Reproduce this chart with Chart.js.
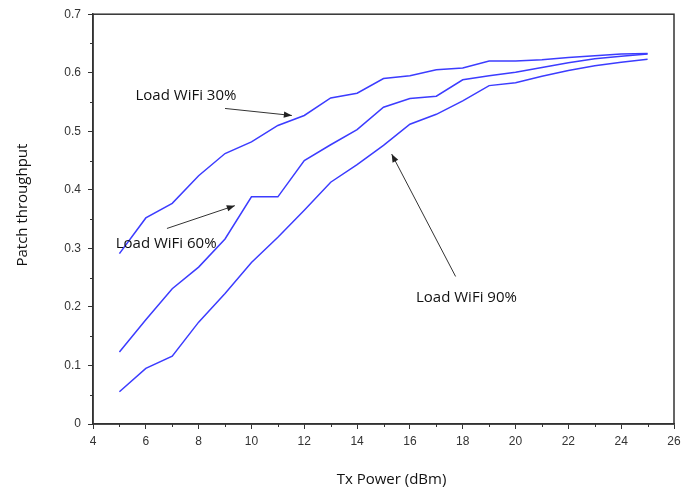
<!DOCTYPE html>
<html>
<head>
<meta charset="utf-8">
<script src="https://cdn.jsdelivr.net/npm/chart.js@4"></script>
<style>
  html, body { margin: 0; padding: 0; background: #fff; }
  #wrap { width: 693px; height: 489px; }
</style>
</head>
<body>
<div id="wrap"><canvas id="c" width="693" height="489"></canvas></div>
<script>
// ---- data ----
const txPower = [5,6,7,8,9,10,11,12,13,14,15,16,17,18,19,20,21,22,23,24,25];
const load30 = [0.291,0.352,0.377,0.424,0.462,0.482,0.510,0.527,0.557,0.565,0.590,0.595,0.605,0.608,0.620,0.620,0.622,0.626,0.629,0.632,0.633];
const load60 = [0.123,0.178,0.231,0.268,0.316,0.388,0.388,0.450,0.477,0.503,0.541,0.556,0.560,0.588,0.595,0.601,0.609,0.617,0.624,0.628,0.632];
const load90 = [0.055,0.095,0.116,0.174,0.223,0.276,0.319,0.365,0.413,0.443,0.476,0.512,0.529,0.552,0.578,0.583,0.594,0.604,0.612,0.618,0.623];
const seriesNames = ['Load WiFi 30%','Load WiFi 60%','Load WiFi 90%'];
// annotation label positions and arrows (data units)
const labelPos = [[7.52,0.561],[6.77,0.308],[18.14,0.216]];
const arrowFrom = [[9.0,0.539],[6.80,0.334],[17.73,0.252]];
const arrowTo = [[11.53,0.527],[9.37,0.373],[15.31,0.461]];
const xTitle = 'Tx Power (dBm)';
const yTitle = 'Patch throughput';

const lineColor = 'rgb(60,60,255)';
const axisColor = '#333';

const toXY = arr => txPower.map((x,i)=>({x, y: arr[i]}));

const decor = {
  id: 'decor',
  afterDraw(chart) {
    const ctx = chart.ctx;
    const xs = chart.scales.x, ys = chart.scales.y;
    const a = chart.chartArea;
    ctx.save();
    // frame
    ctx.strokeStyle = axisColor;
    ctx.lineWidth = 1.5;
    ctx.strokeRect(a.left, a.top, a.right - a.left, a.bottom - a.top);
    // minor ticks
    ctx.lineWidth = 1;
    ctx.beginPath();
    for (let v = 5; v < 26; v += 2) {
      const px = Math.round(xs.getPixelForValue(v)) + 0.5;
      ctx.moveTo(px, a.bottom); ctx.lineTo(px, a.bottom + 3);
    }
    for (let k = 1; k < 14; k += 2) {
      const py = Math.round(ys.getPixelForValue(k * 0.05)) + 0.5;
      ctx.moveTo(a.left, py); ctx.lineTo(a.left - 3, py);
    }
    ctx.stroke();
    // axis titles
    ctx.fillStyle = '#111';
    ctx.font = '15px "Open Sans"';
    ctx.textAlign = 'center';
    ctx.textBaseline = 'middle';
    ctx.fillText(xTitle, (a.left + a.right) / 2 + 8, 480);
    ctx.save();
    ctx.translate(23, (a.top + a.bottom) / 2 - 14);
    ctx.rotate(-Math.PI / 2);
    ctx.fillText(yTitle, 0, 0);
    ctx.restore();
    // annotations
    seriesNames.forEach((n, i) => {
      ctx.fillStyle = '#111';
      ctx.fillText(n, xs.getPixelForValue(labelPos[i][0]), ys.getPixelForValue(labelPos[i][1]));
      const x1 = xs.getPixelForValue(arrowFrom[i][0]), y1 = ys.getPixelForValue(arrowFrom[i][1]);
      const x2 = xs.getPixelForValue(arrowTo[i][0]), y2 = ys.getPixelForValue(arrowTo[i][1]);
      ctx.strokeStyle = '#333';
      ctx.lineWidth = 1;
      ctx.beginPath(); ctx.moveTo(x1, y1); ctx.lineTo(x2, y2); ctx.stroke();
      const ang = Math.atan2(y2 - y1, x2 - x1);
      const L = 8, W = 3.2;
      ctx.fillStyle = '#222';
      ctx.beginPath();
      ctx.moveTo(x2, y2);
      ctx.lineTo(x2 - L*Math.cos(ang) + W*Math.sin(ang), y2 - L*Math.sin(ang) - W*Math.cos(ang));
      ctx.lineTo(x2 - L*Math.cos(ang) - W*Math.sin(ang), y2 - L*Math.sin(ang) + W*Math.cos(ang));
      ctx.closePath(); ctx.fill();
    });
    ctx.restore();
  }
};

new Chart(document.getElementById('c'), {
  type: 'line',
  data: {
    datasets: [load30, load60, load90].map((arr, i) => ({
      label: seriesNames[i],
      data: toXY(arr),
      borderColor: lineColor,
      borderWidth: 1.5,
      pointRadius: 0,
      tension: 0,
      fill: false
    }))
  },
  options: {
    responsive: false,
    animation: false,
    events: [],
    layout: { padding: { left: 0, right: 19, top: 12, bottom: 0 } },
    plugins: { legend: { display: false }, tooltip: { enabled: false } },
    scales: {
      x: {
        type: 'linear', min: 4, max: 26,
        border: { display: true, color: axisColor, width: 1.5 },
        grid: { drawOnChartArea: false, drawTicks: true, tickLength: 5, color: axisColor },
        ticks: { stepSize: 2, color: '#333', font: { family: 'Liberation Sans', size: 12 }, padding: 5, maxRotation: 0 },
        title: { display: false },
        afterFit(s) { s.height = 65; }
      },
      y: {
        type: 'linear', min: 0, max: 0.7,
        border: { display: true, color: axisColor, width: 1.5 },
        grid: { drawOnChartArea: false, drawTicks: true, tickLength: 5, color: axisColor },
        ticks: { stepSize: 0.1, color: '#333', font: { family: 'Liberation Sans', size: 12 }, padding: 7,
                 callback: v => Number(v.toFixed(1)).toString() },
        title: { display: false },
        afterFit(s) { s.width = 93; }
      }
    }
  },
  plugins: [decor]
});
</script>
</body>
</html>
